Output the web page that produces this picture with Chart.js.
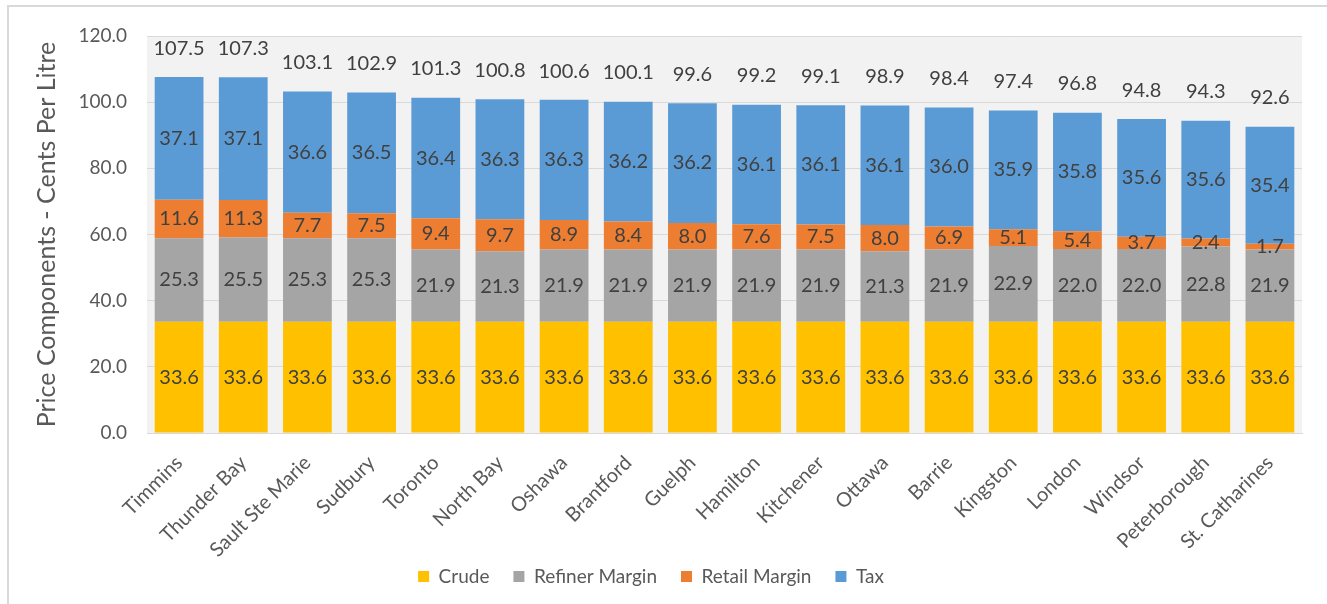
<!DOCTYPE html>
<html>
<head>
<meta charset="utf-8">
<script src="https://cdn.jsdelivr.net/npm/chart.js@4"></script>
<style>
    html, body { margin: 0; padding: 0; background: #fff; }
    #wrap { position: relative; width: 1327px; height: 604px; overflow: hidden; }
    #frame { position: absolute; left: 7px; top: 5px; width: 1330px; height: 610px;
             border-top: 2px solid #d9d9d9; border-left: 2px solid #d9d9d9; }
    #chart { position: absolute; left: 0; top: 0; }
</style>
</head>
<body>
<div id="wrap">
    <div id="frame"></div>
    <canvas id="chart" width="1327" height="604"></canvas>
</div>
<script>
const cities = ['Timmins', 'Thunder Bay', 'Sault Ste Marie', 'Sudbury', 'Toronto', 'North Bay',
    'Oshawa', 'Brantford', 'Guelph', 'Hamilton', 'Kitchener', 'Ottawa', 'Barrie', 'Kingston',
    'London', 'Windsor', 'Peterborough', 'St. Catharines'];
const crude = [33.6, 33.6, 33.6, 33.6, 33.6, 33.6, 33.6, 33.6, 33.6, 33.6, 33.6, 33.6, 33.6, 33.6, 33.6, 33.6, 33.6, 33.6];
const refinerMargin = [25.3, 25.5, 25.3, 25.3, 21.9, 21.3, 21.9, 21.9, 21.9, 21.9, 21.9, 21.3, 21.9, 22.9, 22.0, 22.0, 22.8, 21.9];
const retailMargin = [11.6, 11.3, 7.7, 7.5, 9.4, 9.7, 8.9, 8.4, 8.0, 7.6, 7.5, 8.0, 6.9, 5.1, 5.4, 3.7, 2.4, 1.7];
const tax = [37.1, 37.1, 36.6, 36.5, 36.4, 36.3, 36.3, 36.2, 36.2, 36.1, 36.1, 36.1, 36.0, 35.9, 35.8, 35.6, 35.6, 35.4];
const totals = [107.5, 107.3, 103.1, 102.9, 101.3, 100.8, 100.6, 100.1, 99.6, 99.2, 99.1, 98.9, 98.4, 97.4, 96.8, 94.8, 94.3, 92.6];
const yTicks = [0, 20, 40, 60, 80, 100, 120];

const FONT = 'Lato, "Open Sans", sans-serif';

// light grey plot background
const plotBackground = {
    id: 'plotBackground',
    beforeDraw(chart) {
        const { ctx, chartArea: a } = chart;
        ctx.save();
        ctx.fillStyle = '#f2f2f2';
        ctx.fillRect(a.left, a.top, a.right - a.left, a.bottom - a.top);
        ctx.restore();
    }
};

// the x labels need a tall box (their text is clipped to it),
// so pull the legend up over the empty bottom of that box
const legendLift = {
    id: 'legendLift',
    afterLayout(chart) {
        const lg = chart.legend;
        lg.top -= 18;
        lg.bottom -= 18;
    }
};

// segment values in the middle of each piece, totals above each stack
const valueLabels = {
    id: 'valueLabels',
    afterDatasetsDraw(chart) {
        const { ctx } = chart;
        const yScale = chart.scales.y;
        ctx.save();
        ctx.font = '20px ' + FONT;
        ctx.fillStyle = '#404040';
        ctx.textAlign = 'center';
        ctx.textBaseline = 'middle';
        chart.data.datasets.forEach((ds, i) => {
            const meta = chart.getDatasetMeta(i);
            meta.data.forEach((bar, j) => {
                ctx.fillText(ds.data[j].toFixed(1), bar.x, (bar.y + bar.base) / 2);
            });
        });
        const first = chart.getDatasetMeta(0);
        totals.forEach((t, j) => {
            ctx.fillText(t.toFixed(1), first.data[j].x, yScale.getPixelForValue(t) - 29);
        });
        ctx.restore();
    }
};

const ctx = document.getElementById('chart').getContext('2d');
new Chart(ctx, {
    type: 'bar',
    data: {
        labels: cities,
        datasets: [
            { label: 'Crude', data: crude, backgroundColor: '#ffc000' },
            { label: 'Refiner Margin', data: refinerMargin, backgroundColor: '#a5a5a5' },
            { label: 'Retail Margin', data: retailMargin, backgroundColor: '#ed7d31' },
            { label: 'Tax', data: tax, backgroundColor: '#5b9bd5' }
        ]
    },
    options: {
        responsive: false,
        animation: false,
        categoryPercentage: 1,
        barPercentage: 0.76,
        layout: { padding: { top: 36, right: 25, bottom: -10, left: 0 } },
        scales: {
            x: {
                stacked: true,
                grid: { display: false },
                border: { color: '#d9d9d9', width: 1 },
                ticks: {
                    color: '#595959',
                    font: { family: FONT, size: 20 },
                    minRotation: 45,
                    maxRotation: 45,
                    padding: 10
                },
                afterFit(scale) { scale.height = 128; }
            },
            y: {
                stacked: true,
                min: 0,
                max: 120,
                afterBuildTicks(scale) { scale.ticks = yTicks.map(v => ({ value: v })); },
                grid: { color: '#d9d9d9', drawTicks: false },
                border: { display: false },
                ticks: {
                    color: '#595959',
                    font: { family: FONT, size: 19 },
                    padding: 20,
                    callback: v => v.toFixed(1)
                },
                title: {
                    display: true,
                    text: 'Price Components - Cents Per Litre',
                    color: '#595959',
                    font: { family: FONT, size: 25 },
                    padding: { top: 32, bottom: 0 }
                },
                afterFit(scale) { scale.width = 147; }
            }
        },
        plugins: {
            legend: {
                position: 'bottom',
                labels: {
                    color: '#595959',
                    font: { family: FONT, size: 19 },
                    boxWidth: 11,
                    boxHeight: 11,
                    padding: 24
                }
            },
            tooltip: { enabled: false }
        }
    },
    plugins: [plotBackground, legendLift, valueLabels]
});
</script>
</body>
</html>
